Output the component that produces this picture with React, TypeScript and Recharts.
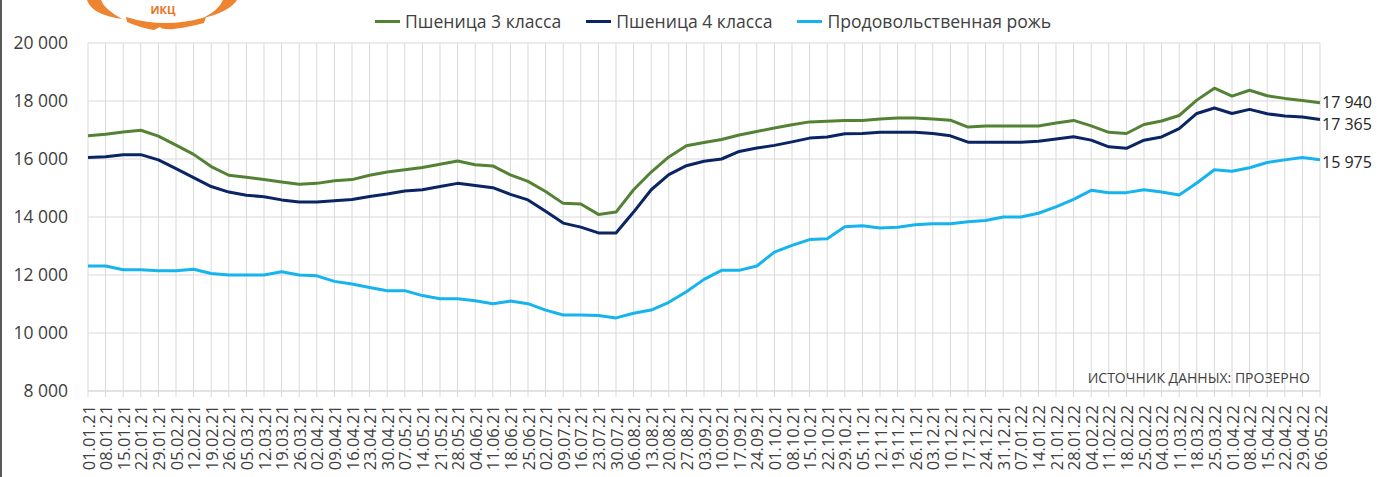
import { LineChart, Line, XAxis, YAxis, CartesianGrid, Legend, LabelList } from "recharts";

const dates = [
  "01.01.21", "08.01.21", "15.01.21", "22.01.21", "29.01.21", "05.02.21", "12.02.21", "19.02.21", "26.02.21",
  "05.03.21", "12.03.21", "19.03.21", "26.03.21", "02.04.21", "09.04.21", "16.04.21", "23.04.21", "30.04.21",
  "07.05.21", "14.05.21", "21.05.21", "28.05.21", "04.06.21", "11.06.21", "18.06.21", "25.06.21", "02.07.21",
  "09.07.21", "16.07.21", "23.07.21", "30.07.21", "06.08.21", "13.08.21", "20.08.21", "27.08.21", "03.09.21",
  "10.09.21", "17.09.21", "24.09.21", "01.10.21", "08.10.21", "15.10.21", "22.10.21", "29.10.21", "05.11.21",
  "12.11.21", "19.11.21", "26.11.21", "03.12.21", "10.12.21", "17.12.21", "24.12.21", "31.12.21", "07.01.22",
  "14.01.22", "21.01.22", "28.01.22", "04.02.22", "11.02.22", "18.02.22", "25.02.22", "04.03.22", "11.03.22",
  "18.03.22", "25.03.22", "01.04.22", "08.04.22", "15.04.22", "22.04.22", "29.04.22", "06.05.22",
];

const wheat3 = [
  16800, 16850, 16930, 16990, 16790, 16480, 16160, 15740, 15440, 15370, 15290, 15210, 15130, 15160, 15250,
  15290, 15440, 15550, 15630, 15710, 15820, 15930, 15800, 15760, 15450, 15230, 14880, 14470, 14450, 14090,
  14170, 14940, 15550, 16070, 16460, 16570, 16670, 16830, 16950, 17070, 17180, 17280, 17300, 17330, 17330,
  17380, 17410, 17410, 17380, 17340, 17100, 17140, 17140, 17140, 17140, 17240, 17330, 17140, 16920, 16880,
  17190, 17310, 17500, 18030, 18440, 18170, 18370, 18180, 18090, 18020, 17940,
];

const wheat4 = [
  16050, 16080, 16150, 16150, 15970, 15670, 15360, 15050, 14860, 14750, 14700, 14590, 14520, 14520, 14560,
  14600, 14710, 14790, 14900, 14940, 15050, 15160, 15090, 15010, 14780, 14590, 14200, 13790, 13650, 13450,
  13450, 14170, 14940, 15460, 15770, 15920, 16000, 16260, 16380, 16470, 16590, 16720, 16760, 16870, 16880,
  16920, 16920, 16920, 16880, 16800, 16580, 16580, 16580, 16580, 16610, 16690, 16770, 16650, 16420, 16370,
  16650, 16760, 17050, 17570, 17760, 17570, 17710, 17560, 17480, 17450, 17365,
];

const rye = [
  12310, 12310, 12180, 12180, 12150, 12150, 12200, 12050, 12000, 12000, 12000, 12110, 12000, 11970, 11780,
  11690, 11570, 11460, 11460, 11290, 11180, 11180, 11110, 11010, 11100, 11010, 10790, 10620, 10620, 10600,
  10520, 10680, 10790, 11060, 11420, 11850, 12160, 12160, 12310, 12790, 13020, 13220, 13250, 13660, 13700,
  13620, 13650, 13730, 13770, 13770, 13840, 13880, 14000, 14000, 14130, 14350, 14610, 14920, 14840, 14840,
  14940, 14860, 14760, 15170, 15630, 15580, 15700, 15880, 15970, 16050, 15975,
];

const yTicks = [8000, 10000, 12000, 14000, 16000, 18000, 20000];

// dy nudges the end-value label so the two wheat labels don't collide
const series = [
  { key: "wheat3", name: "Пшеница 3 класса", color: "#548235", dy: -1 },
  { key: "wheat4", name: "Пшеница 4 класса", color: "#0B2463", dy: 4.5 },
  { key: "rye", name: "Продовольственная рожь", color: "#16B4EE", dy: 2.5 },
];

const data = dates.map((d, i) => ({ date: d, wheat3: wheat3[i], wheat4: wheat4[i], rye: rye[i] }));

const FONT = "'Open Sans', sans-serif";
const fmt = (v: number) => String(v).replace(/\B(?=(\d{3})+(?!\d))/g, " ");
const last = dates.length - 1;

const DateTick = ({ x, y, payload }: any) => (
  <text
    x={x}
    y={y}
    transform={`rotate(-90 ${x} ${y})`}
    textAnchor="end"
    dominantBaseline="central"
    fontSize={16.5}
    fontFamily={FONT}
    fill="#404040"
  >
    {payload.value}
  </text>
);

const makeEndLabel = (dy: number) => (props: any) => {
  if (props.index !== last) return null;
  return (
    <text x={props.x + 2} y={props.y + dy} dominantBaseline="central" fontSize={16} fontFamily={FONT} fill="#262626">
      {fmt(props.value)}
    </text>
  );
};

const renderLegend = () => (
  <div style={{ display: "flex", alignItems: "center", fontFamily: FONT, fontSize: 17.6, color: "#404040", whiteSpace: "nowrap" }}>
    {series.map((s) => (
      <div key={s.key} style={{ display: "flex", alignItems: "center", marginRight: 25 }}>
        <span style={{ display: "inline-block", width: 25, height: 3, background: s.color, marginRight: 5 }} />
        <span>{s.name}</span>
      </div>
    ))}
  </div>
);

export default function App() {
  return (
    <div style={{ position: "absolute", left: 0, top: 0, width: 1381, height: 477, background: "#fff" }}>
      <div style={{ position: "absolute", left: 0, top: 0, width: 2, height: 477, background: "#595959" }} />
      <svg width={260} height={32} style={{ position: "absolute", left: 0, top: 0 }}>
        <path d="M87,0 Q92,15 122,19 Q104,9 101,0 Z" fill="#EE8330" />
        <path d="M126,17 Q165,29 206,17 L204,23 Q165,33 160,27 L154,30 Q138,27 127,22 Z" fill="#EE8330" />
        <path d="M203,18 Q229,12 237,0 L223,0 Q219,10 203,18 Z" fill="#EE8330" />
        <text x={163} y={14} textAnchor="middle" fontSize={11} fontWeight="bold" fontFamily={FONT} fill="#E8761E">
          ИКЦ
        </text>
      </svg>
      <LineChart width={1381} height={477} data={data} margin={{ top: 43, right: 61, left: 0, bottom: 0 }}>
        <CartesianGrid stroke="#d9d9d9" strokeWidth={1} />
        <XAxis
          dataKey="date"
          interval={0}
          height={86}
          tick={<DateTick />}
          tickSize={6}
          tickMargin={8}
          axisLine={{ stroke: "#d9d9d9" }}
          tickLine={{ stroke: "#d9d9d9" }}
        />
        <YAxis
          domain={[8000, 20000]}
          ticks={yTicks}
          width={88}
          axisLine={false}
          tickLine={false}
          tickSize={0}
          tickMargin={20}
          tickFormatter={fmt}
          tick={{ fontSize: 17.5, fontFamily: FONT, fill: "#404040" }}
        />
        <Legend
          content={renderLegend}
          verticalAlign="middle"
          align="center"
          wrapperStyle={{ top: 9, left: 375, width: 740, height: 24 }}
        />
        {series.map((s) => (
          <Line
            key={s.key}
            type="linear"
            dataKey={s.key}
            name={s.name}
            stroke={s.color}
            strokeWidth={3}
            strokeLinejoin="round"
            dot={false}
            activeDot={false}
            isAnimationActive={false}
          >
            <LabelList dataKey={s.key} content={makeEndLabel(s.dy)} />
          </Line>
        ))}
      </LineChart>
      <div
        style={{
          position: "absolute",
          right: 71,
          top: 368,
          fontFamily: FONT,
          fontSize: 14,
          color: "#404040",
          whiteSpace: "nowrap",
        }}
      >
        ИСТОЧНИК ДАННЫХ: ПРОЗЕРНО
      </div>
    </div>
  );
}
